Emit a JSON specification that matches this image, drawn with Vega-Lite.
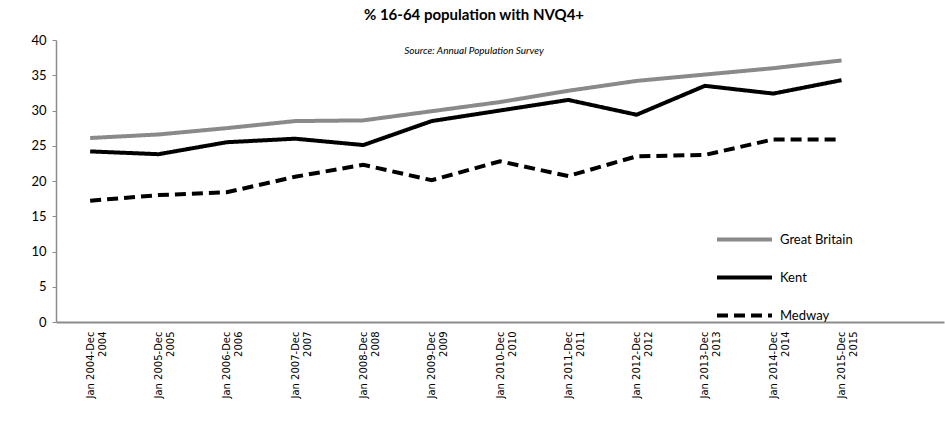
{
  "$schema": "https://vega.github.io/schema/vega-lite/v6.json",
  "width": 888,
  "height": 282,
  "autosize": {"type": "none"},
  "padding": {"left": 56, "top": 40, "right": 1, "bottom": 100},
  "background": "white",
  "title": {
    "text": "% 16-64 population with NVQ4+",
    "subtitle": "Source: Annual Population Survey",
    "font": "Lato",
    "fontSize": 15,
    "fontWeight": "bold",
    "color": "#000000",
    "subtitleFont": "Lato",
    "subtitleFontSize": 10,
    "subtitleFontStyle": "italic",
    "subtitleColor": "#000000",
    "subtitlePadding": 23,
    "anchor": "middle",
    "offset": -22,
    "dx": -26
  },
  "data": {
    "values": [
      {"period": "Jan 2004-Dec 2004", "series": "Great Britain", "value": 26.1},
      {"period": "Jan 2005-Dec 2005", "series": "Great Britain", "value": 26.6},
      {"period": "Jan 2006-Dec 2006", "series": "Great Britain", "value": 27.5},
      {"period": "Jan 2007-Dec 2007", "series": "Great Britain", "value": 28.5},
      {"period": "Jan 2008-Dec 2008", "series": "Great Britain", "value": 28.6},
      {"period": "Jan 2009-Dec 2009", "series": "Great Britain", "value": 29.9},
      {"period": "Jan 2010-Dec 2010", "series": "Great Britain", "value": 31.2},
      {"period": "Jan 2011-Dec 2011", "series": "Great Britain", "value": 32.8},
      {"period": "Jan 2012-Dec 2012", "series": "Great Britain", "value": 34.2},
      {"period": "Jan 2013-Dec 2013", "series": "Great Britain", "value": 35.1},
      {"period": "Jan 2014-Dec 2014", "series": "Great Britain", "value": 36.0},
      {"period": "Jan 2015-Dec 2015", "series": "Great Britain", "value": 37.1},
      {"period": "Jan 2004-Dec 2004", "series": "Kent", "value": 24.2},
      {"period": "Jan 2005-Dec 2005", "series": "Kent", "value": 23.8},
      {"period": "Jan 2006-Dec 2006", "series": "Kent", "value": 25.5},
      {"period": "Jan 2007-Dec 2007", "series": "Kent", "value": 26.0},
      {"period": "Jan 2008-Dec 2008", "series": "Kent", "value": 25.1},
      {"period": "Jan 2009-Dec 2009", "series": "Kent", "value": 28.5},
      {"period": "Jan 2010-Dec 2010", "series": "Kent", "value": 30.0},
      {"period": "Jan 2011-Dec 2011", "series": "Kent", "value": 31.5},
      {"period": "Jan 2012-Dec 2012", "series": "Kent", "value": 29.4},
      {"period": "Jan 2013-Dec 2013", "series": "Kent", "value": 33.5},
      {"period": "Jan 2014-Dec 2014", "series": "Kent", "value": 32.4},
      {"period": "Jan 2015-Dec 2015", "series": "Kent", "value": 34.3},
      {"period": "Jan 2004-Dec 2004", "series": "Medway", "value": 17.2},
      {"period": "Jan 2005-Dec 2005", "series": "Medway", "value": 18.0},
      {"period": "Jan 2006-Dec 2006", "series": "Medway", "value": 18.4},
      {"period": "Jan 2007-Dec 2007", "series": "Medway", "value": 20.6},
      {"period": "Jan 2008-Dec 2008", "series": "Medway", "value": 22.3},
      {"period": "Jan 2009-Dec 2009", "series": "Medway", "value": 20.1},
      {"period": "Jan 2010-Dec 2010", "series": "Medway", "value": 22.8},
      {"period": "Jan 2011-Dec 2011", "series": "Medway", "value": 20.7},
      {"period": "Jan 2012-Dec 2012", "series": "Medway", "value": 23.5},
      {"period": "Jan 2013-Dec 2013", "series": "Medway", "value": 23.7},
      {"period": "Jan 2014-Dec 2014", "series": "Medway", "value": 25.9},
      {"period": "Jan 2015-Dec 2015", "series": "Medway", "value": 25.9}
    ]
  },
  "mark": {"type": "line", "strokeWidth": 4},
  "encoding": {
    "x": {
      "field": "period",
      "type": "ordinal",
      "sort": null,
      "scale": {
        "domain": ["Jan 2004-Dec 2004", "Jan 2005-Dec 2005", "Jan 2006-Dec 2006", "Jan 2007-Dec 2007", "Jan 2008-Dec 2008", "Jan 2009-Dec 2009", "Jan 2010-Dec 2010", "Jan 2011-Dec 2011", "Jan 2012-Dec 2012", "Jan 2013-Dec 2013", "Jan 2014-Dec 2014", "Jan 2015-Dec 2015", " "],
        "type": "point",
        "padding": 0.5
      },
      "axis": {
        "title": null,
        "labelExpr": "[slice(datum.value, 0, 12), slice(datum.value, 13)]",
        "labelAngle": -90,
        "labelPadding": 9,
        "labelFont": "DejaVu Sans",
        "labelFontSize": 10,
        "labelColor": "#000000",
        "domainColor": "#8c8c8c",
        "domainWidth": 2,
        "ticks": false,
        "grid": false
      }
    },
    "y": {
      "field": "value",
      "type": "quantitative",
      "scale": {"domain": [0, 40], "nice": false},
      "axis": {
        "title": null,
        "values": [0, 5, 10, 15, 20, 25, 30, 35, 40],
        "grid": false,
        "labelFont": "Lato",
        "labelFontSize": 13,
        "labelColor": "#000000",
        "labelPadding": 6,
        "domainColor": "#8c8c8c",
        "domainWidth": 1.5,
        "tickColor": "#8c8c8c",
        "tickSize": 4
      }
    },
    "color": {
      "field": "series",
      "type": "nominal",
      "scale": {"domain": ["Great Britain", "Kent", "Medway"], "range": ["#8a8a8a", "#000000", "#000000"]},
      "legend": {
        "title": null,
        "orient": "none",
        "legendX": 659,
        "legendY": 170,
        "symbolType": "stroke",
        "symbolSize": 3025,
        "symbolStrokeWidth": 4,
        "labelFont": "Lato",
        "labelFontSize": 13,
        "labelColor": "#000000",
        "labelOffset": 6,
        "rowPadding": -7
      }
    },
    "strokeDash": {
      "field": "series",
      "type": "nominal",
      "scale": {"domain": ["Great Britain", "Kent", "Medway"], "range": [[1, 0], [1, 0], [11, 6]]},
      "legend": {"title": null}
    }
  },
  "config": {"view": {"stroke": null}}
}
